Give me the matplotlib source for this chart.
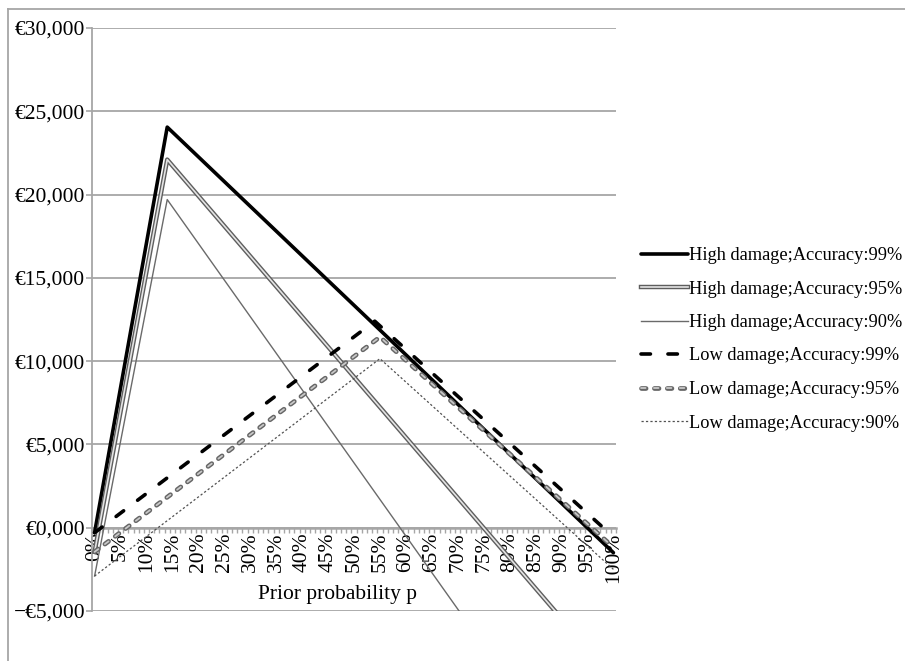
import matplotlib
matplotlib.use('Agg')
import matplotlib.pyplot as plt
import matplotlib.patheffects as pe
from matplotlib.lines import Line2D
from matplotlib.ticker import FixedLocator

plt.rcParams['font.family'] = ['Liberation Serif', 'DejaVu Serif']
plt.rcParams['lines.scale_dashes'] = False

# ---- data (prior probability in %, value in EUR) ----
series_labels = [
    "High damage;Accuracy:99%",
    "High damage;Accuracy:95%",
    "High damage;Accuracy:90%",
    "Low damage;Accuracy:99%",
    "Low damage;Accuracy:95%",
    "Low damage;Accuracy:90%",
]
prob_high = [0, 14, 100]
prob_low_99 = [0, 54, 100]
prob_low = [0, 55, 100]
high_99 = [-300, 24050, -1500]
high_95 = [-1450, 22100, -9080]
high_90 = [-2900, 19700, -18060]
low_99 = [-300, 12400, -550]
low_95 = [-1450, 11450, -1180]
low_90 = [-2900, 10150, -2500]

x_ticks = list(range(0, 101, 5))
x_tick_labels = [f"{t}%" for t in x_ticks]
y_ticks = [-5000, 0, 5000, 10000, 15000, 20000, 25000, 30000]
y_tick_labels = ["\u2212€5,000", "€0,000", "€5,000", "€10,000", "€15,000",
                 "€20,000", "€25,000", "€30,000"]
x_label = "Prior probability p"

W, H = 905, 661
fig = plt.figure(figsize=(W / 100, H / 100), dpi=100)
ax = fig.add_axes([92 / W, 50 / H, 524 / W, 583 / H])

GRID = '#a6a6a6'

# High damage 99%: thick black solid
ax.plot(prob_high, high_99, color='black', lw=2.6, solid_capstyle='round',
        solid_joinstyle='round', label=series_labels[0], zorder=3)
# High damage 95%: compound gray double line
ax.plot(prob_high, high_95, color='#e4e4e4', lw=1.2, label=series_labels[1], zorder=3,
        path_effects=[pe.Stroke(linewidth=3.2, foreground='#5e5e5e'), pe.Normal()])
# High damage 90%: thin gray
ax.plot(prob_high, high_90, color='#6a6a6a', lw=1.0, label=series_labels[2], zorder=3)
# Low damage 99%: thick black long dash
ax.plot(prob_low_99, low_99, color='black', lw=2.6, linestyle=(0, (6.8, 12.6)),
        dash_capstyle='round', label=series_labels[3], zorder=3)
# Low damage 95%: gray compound dashes
ax.plot(prob_low, low_95, color='#c8c8c8', lw=1.3, linestyle=(0, (3.3, 6.0)),
        dash_capstyle='round', label=series_labels[4], zorder=3,
        path_effects=[pe.Stroke(linewidth=3.4, foreground='#666666', capstyle='round'),
                      pe.Normal()])
# Low damage 90%: thin dotted
ax.plot(prob_low, low_90, color='#505050', lw=0.9, linestyle=(0, (1.6, 1.6)),
        label=series_labels[5], zorder=3)

ax.set_xlim(-0.5, 100.5)
ax.set_ylim(-5000, 30000)

for s in ('top', 'right'):
    ax.spines[s].set_visible(False)
ax.spines['left'].set_color(GRID)
ax.spines['left'].set_linewidth(1.3)
ax.spines['bottom'].set_position(('data', 0))
ax.spines['bottom'].set_color(GRID)
ax.spines['bottom'].set_linewidth(1.8)
ax.spines['bottom'].set_zorder(2)

ax.set_yticks(y_ticks)
ax.set_yticklabels(y_tick_labels)
ax.set_xticks(x_ticks)
ax.set_xticklabels(x_tick_labels, rotation=90, va='top', ha='center')
ax.xaxis.set_minor_locator(FixedLocator([k - 0.5 for k in range(0, 102)]))

ax.tick_params(axis='y', length=4, color=GRID, width=1.2, labelsize=15.5, pad=1)
ax.tick_params(axis='x', which='major', length=0, labelsize=15.5, pad=3.5)
ax.tick_params(axis='x', which='minor', length=3.5, color=GRID, width=1.0, direction='out')

ax.set_axisbelow(True)
ax.yaxis.grid(True, color=GRID, lw=1.3)

fig.text(337 / W, 1 - 595 / H, x_label, ha='center', va='center', fontsize=15.5)

leg = ax.legend(loc='upper left', bbox_to_anchor=(641 / W, 1 - 247 / H),
                bbox_transform=fig.transFigure, frameon=False, fontsize=13.2,
                handlelength=2.55, handletextpad=0.05, labelspacing=0.9,
                borderpad=0, borderaxespad=0)

# outer chart-area border
fig.add_artist(Line2D([8 / W, 8 / W], [0, 1 - 9 / H], transform=fig.transFigure,
                      color=GRID, lw=1.3))
fig.add_artist(Line2D([8 / W, 1], [1 - 9 / H, 1 - 9 / H], transform=fig.transFigure,
                      color=GRID, lw=1.3))

fig.savefig('out.png', dpi=100)
